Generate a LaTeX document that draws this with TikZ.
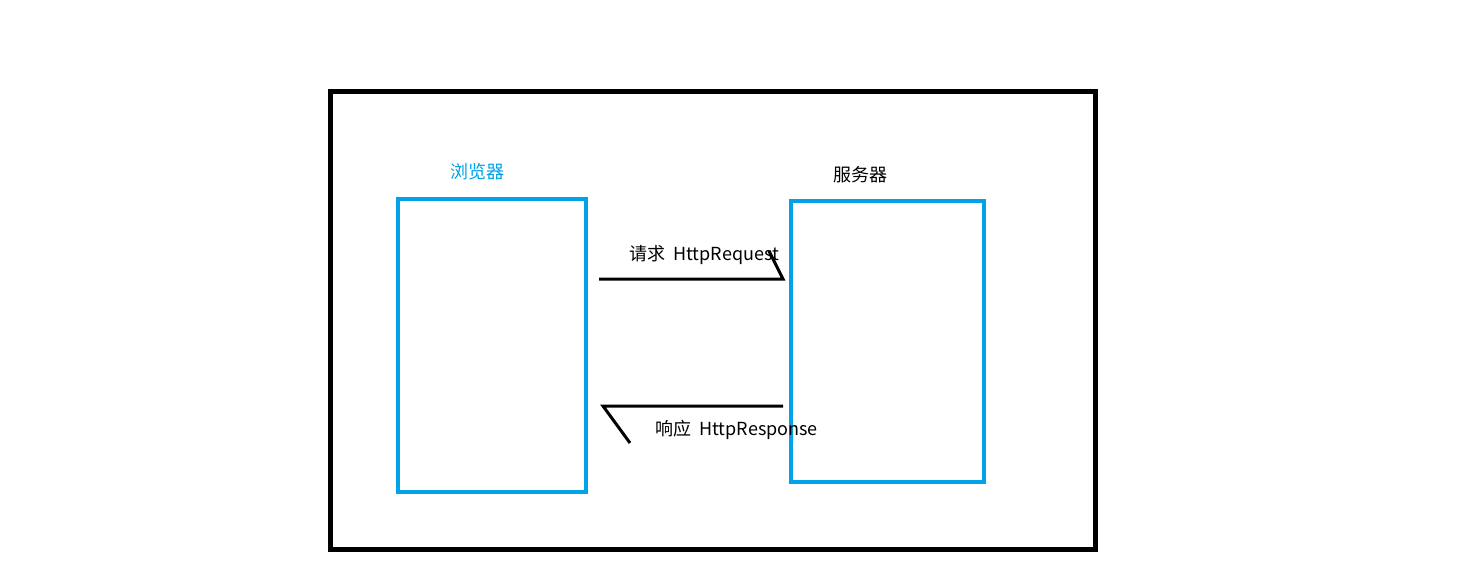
\documentclass[tikz,border=0pt]{standalone}
\usepackage{fontspec}
\setmainfont{Noto Sans CJK SC}
\usetikzlibrary{positioning, calc}
\definecolor{paintblue}{HTML}{00A2E8}

\begin{document}
\begin{tikzpicture}[x=0.75pt, y=-0.75pt,
    box/.style={draw=paintblue, line width=3pt, minimum width=#1},
    conn/.style={line width=2.25pt, line cap=butt},
    lbl/.style={font=\fontsize{13.5}{16}\selectfont, inner sep=0pt}]
      \useasboundingbox (0,0) rectangle (1476,577);

      % Outer frame
      \draw[line width=3.75pt] (330,92) rectangle (1095,549);

      % Browser and server
      \node[box=141pt, minimum height=219.75pt] (browser) at (492,345.5) {};
      \node[box=144.75pt, minimum height=210.75pt] (server) at (887.5,341.5) {};
      \node[lbl, text=paintblue] (browserlbl) at (477,172) {浏览器};
      \node[lbl] (serverlbl) at (860,175) {服务器};

      % Request
      \coordinate (reqS) at (599,279);
      \coordinate (reqE) at (783,279);
      \draw[conn] (reqS) -- (reqE) -- +(-14,-28);
      \node[lbl, anchor=west] (reqlbl) at (629,255) {请求\ \ HttpRequest};

      % Response
      \coordinate (resS) at (783,406);
      \coordinate (resE) at (603,406);
      \draw[conn] (resS) -- (resE) -- +(27,37);
      \node[lbl, anchor=west] (reslbl) at (655,430) {响应\ \ HttpResponse};
\end{tikzpicture}
\end{document}
